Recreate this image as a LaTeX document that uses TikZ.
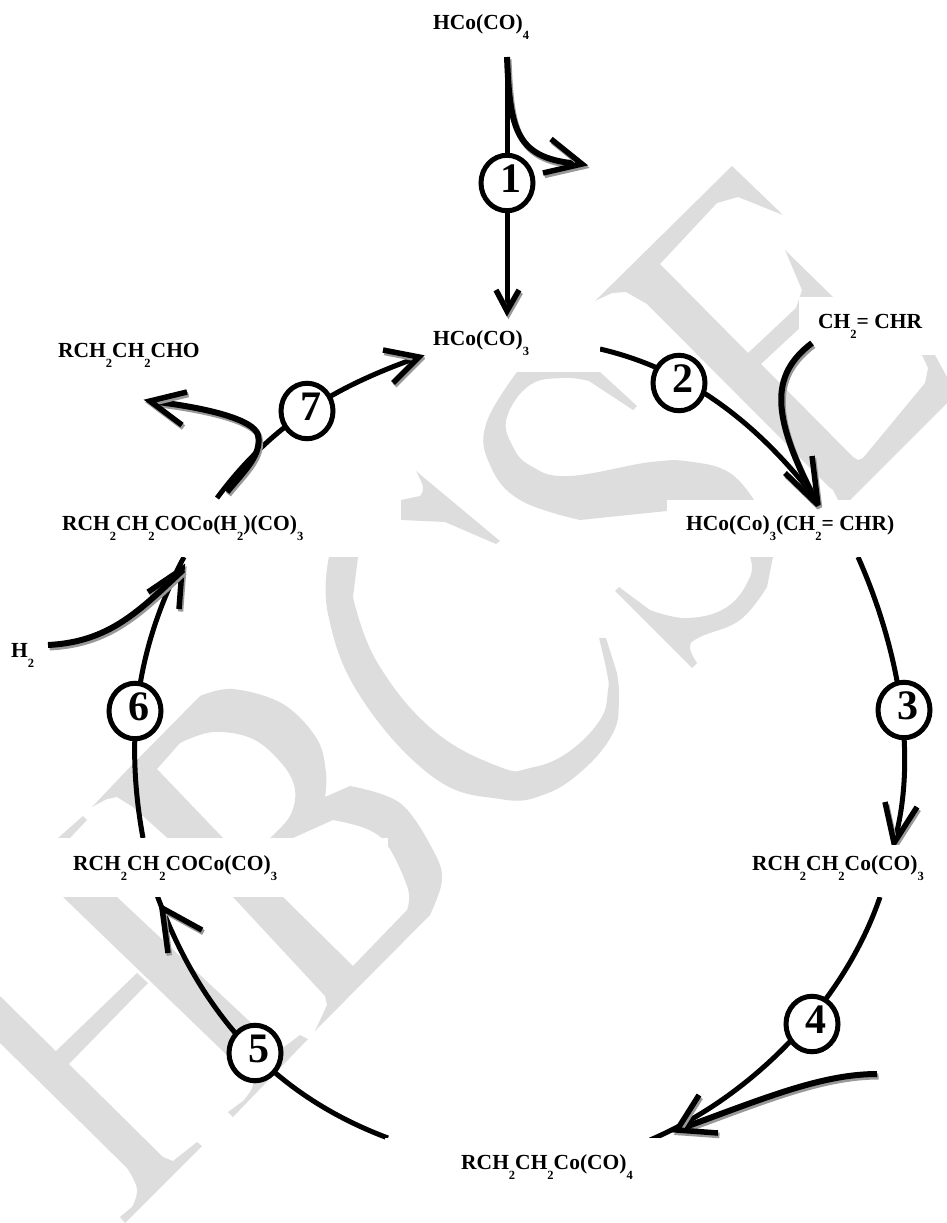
\documentclass[tikz,border=0pt]{standalone}
\usepackage{fontspec}
\setmainfont{Liberation Serif}
\usetikzlibrary{shapes.geometric}
\definecolor{wmgrey}{HTML}{DDDDDD}
\definecolor{shgrey}{HTML}{999999}
\newcommand\sbs[1]{\raisebox{-10pt}{\fontsize{12.5}{12.5}\selectfont\bfseries #1}}
\newcommand\stepnum[1]{\kern8pt\raisebox{-9pt}[0pt][0pt]{#1}}
\tikzset{
  wm/.style={fill=wmgrey,draw=none,even odd rule},
  mask/.style={fill=white,draw=none},
  ring/.style={draw=black,line width=5pt,line join=miter},
  side/.style={draw=black,line width=6pt,line cap=butt,
    preaction={draw=shgrey,line width=6pt,transform canvas={shift={(1.5pt,-2.5pt)}}}},
  barb/.style={draw=black,line width=5.5pt,line join=miter,miter limit=3,
    preaction={draw=shgrey,line width=5.5pt,line join=miter,miter limit=3,transform canvas={shift={(1.5pt,-2.5pt)}}}},
  chem/.style={anchor=base west,inner sep=0pt,font=\fontsize{21.5}{21.5}\selectfont\bfseries,text=black},
  stepc/.style={ellipse,draw=black,fill=white,line width=5pt,minimum width=52pt,minimum height=55.5pt,inner sep=0pt,
    font=\fontsize{42}{42}\selectfont\bfseries}
}
\begin{document}
\begin{tikzpicture}[x=1pt,y=-1pt]
\useasboundingbox (0,0) rectangle (947,1223);
% ---- watermark: H
\fill[wm] (0,996) -- (163,1157) -- (173,1161) -- (197,1142) -- (202,1146) -- (125,1223) -- (120,1217)
  -- plot[smooth,tension=.7] coordinates {(132,1207) (137,1189) (127,1168)} -- (0,1043) -- cycle;
\fill[wm] (58,838) -- (83,816) -- (87,820) -- (70,838) -- (117,897) -- (280,1050) -- (300,1035) -- (308,1039) -- (233,1117) -- (228,1112)
  -- plot[smooth,tension=.7] coordinates {(243,1101) (252,1088) (250,1078) (233,1061)} -- (63,897) -- cycle;
\fill[wm] (55,1052) -- (137,973) -- (148,983) -- (68,1065) -- cycle;
% ---- watermark: B
\fill[wm] (92,807) -- (130,767) -- plot[smooth,tension=.6] coordinates {(200,696) (233,689) (283,704) (317,739) (326,773) (325,797)}
  -- plot[smooth,tension=.6] coordinates {(350,786) (400,803) (433,850) (442,880) (430,915)} -- (315,1031)
  -- plot[smooth,tension=.7] coordinates {(327,1005) (325,996)} -- (233,897) -- (133,807)
  -- plot[smooth,tension=.7] coordinates {(117,797) (107,799)} -- cycle
  (157,769) -- plot[smooth,tension=.6] coordinates {(180,743) (213,732) (253,739) (283,765) (295,790) (290,816) (270,838)} -- (223,838) -- cycle
  (283,897) -- (293,838) -- plot[smooth,tension=.6] coordinates {(333,820) (367,829) (388,846) (408,889) (407,910)} -- (353,966) -- cycle;
% ---- watermark: C
\fill[wm] (416,471) -- (500,541) -- (496,544)
  -- plot[smooth,tension=.7] coordinates {(445,522) (401,520)} -- (358,557)
  -- plot[smooth,tension=.7] coordinates {(353,597) (377,662) (433,730) (500,767) (530,768) (567,753) (600,720) (608,690) (607,673) (599,638)}
  -- (606,638)
  -- plot[smooth,tension=.7] coordinates {(617,673) (619,700) (613,733) (583,770) (543,795) (500,799) (433,777) (360,696) (328,614) (329,557)}
  -- (340,510) -- (401,500) -- plot[smooth,tension=.7] coordinates {(420,496) (423,487) (416,471)} -- cycle;
% ---- watermark: S
\fill[wm] (600,372) -- (637,406) -- (633,410)
  -- plot[smooth,tension=.7] coordinates {(589,381) (564,378) (530,385) (507,417) (512,445) (531,466) (569,476) (651,462) (693,462) (730,473) (754,500)}
  -- (773,557)
  -- plot[smooth,tension=.7] coordinates {(767,587) (740,620) (700,637) (690,647) (697,663)} -- (692,668) -- (615,591) -- (619,587)
  -- plot[smooth,tension=.7] coordinates {(650,610) (687,618) (727,607) (750,577) (750,557)}
  -- (667,511) -- plot[smooth,tension=.7] coordinates {(580,520) (520,500) (490,465) (486,424) (517,372)} -- cycle;
% ---- watermark: E
\fill[wm] (595,301) -- (732,166) -- (783,215)
  -- plot[smooth,tension=.7] coordinates {(738,197) (717,203)} -- (660,264) -- (748,353) -- (796,308)
  -- plot[smooth,tension=.7] coordinates {(802,290) (785,250)} -- (833,297) -- (761,364) -- (853,457)
  -- plot[smooth,tension=.7] coordinates {(858,460) (863,458)} -- (925,383)
  -- plot[smooth,tension=.7] coordinates {(928,368) (922,355)} -- (935,355) -- (947,377) -- (947,403) -- (850,500) -- (838,500)
  -- plot[smooth,tension=.7] coordinates {(833,490) (829,487)} -- (647,304)
  -- plot[smooth,tension=.7] coordinates {(626,292) (612,293)} -- cycle;
% ---- named points
\coordinate (topS) at (507,57);
\coordinate (t1) at (507,311);
\coordinate (s2) at (600,349);
\coordinate (t2) at (819,503);
\coordinate (s3) at (858,557);
\coordinate (t3) at (894,843);
\coordinate (s4) at (880,897);
\coordinate (t4) at (650,1140);
\coordinate (s5) at (388,1138);
\coordinate (t5) at (157,895);
\coordinate (s6) at (143,838);
\coordinate (t6) at (184,557);
\coordinate (s7) at (217,498);
\coordinate (t7) at (419,357);
\coordinate (sOut) at (582,164);
\coordinate (sAlk) at (812,343);
\coordinate (sCO) at (877,1074);
\coordinate (tCO) at (677,1130);
\coordinate (sH) at (48,645);
\coordinate (tH) at (183,570);
\coordinate (sAld) at (227,492);
\coordinate (tAld) at (150,401);
% ---- ring connectors (cut by the label boxes)
\draw[ring] (s2) .. controls (690,370) and (760,425) .. (t2);
\draw[ring] (s3) .. controls (895,640) and (920,750) .. (t3);
\draw[ring] (s4) .. controls (845,1000) and (755,1095) .. (t4);
\draw[ring] (s5) .. controls (300,1105) and (210,1040) .. (t5);
\draw[ring] (s6) .. controls (125,740) and (135,650) .. (t6);
\draw[ring] (s7) .. controls (275,420) and (340,385) .. (t7);
% ---- arrowheads of the ring connectors
\draw[barb] (885,802) -- (t3) -- (917,807);
\draw[barb] (202,930) -- (162,908) -- (168,953);
\draw[barb] (148,592) -- (182,569) -- (179,609);
\draw[barb] (383,350) -- (t7) -- (393,383);
% ---- label boxes
\fill[mask] (425,304) rectangle (600,372);
\fill[mask] (799,297) rectangle (947,355);
\fill[mask] (667,500) rectangle (947,557);
\fill[mask] (50,500) rectangle (401,557);
\fill[mask] (58,838) rectangle (388,897);
\fill[mask] (740,845) rectangle (935,897);
\fill[mask] (385,1138) rectangle (660,1190);
% ---- connectors over the boxes
\draw[ring] (topS) -- (t1);
\draw[barb] (496,290) -- (t1) -- (519,290);
\draw[side] (topS) .. controls (510,130) and (515,160) .. (sOut);
\draw[barb] (551,139) -- (sOut) -- (543,173);
\draw[side] (sAlk) .. controls (770,375) and (770,415) .. (818,505);
\draw[barb] (785,473) -- (818,505) -- (812,456);
\draw[side] (sCO) .. controls (820,1074) and (760,1100) .. (tCO);
\draw[barb] (699,1095) -- (tCO) -- (718,1133);
\draw[side] (sH) .. controls (110,642) and (140,610) .. (tH);
\draw[side] (sAld) .. controls (245,470) and (262,455) .. (258,435) .. controls (254,420) and (210,408) .. (tAld);
\draw[barb] (187,392) -- (tAld) -- (182,425);
% ---- labels
\node[chem] (hco4) at (433,30) {HCo(CO)\sbs{4}};
\node[chem] (hco3) at (433,345) {HCo(CO)\sbs{3}};
\node[chem] (alk) at (818,328) {CH\sbs{2}= CHR};
\node[chem] (ald) at (58,357) {RCH\sbs{2}CH\sbs{2}CHO};
\node[chem] (cplx) at (686,530) {HCo(Co)\sbs{3}(CH\sbs{2}= CHR)};
\node[chem] (acylh) at (62,530) {RCH\sbs{2}CH\sbs{2}COCo(H\sbs{2})(CO)\sbs{3}};
\node[chem] (hyd) at (11,657) {H\sbs{2}};
\node[chem] (acyl) at (73,870) {RCH\sbs{2}CH\sbs{2}COCo(CO)\sbs{3}};
\node[chem] (alkyl3) at (752,870) {RCH\sbs{2}CH\sbs{2}Co(CO)\sbs{3}};
\node[chem] (alkyl4) at (461,1169) {RCH\sbs{2}CH\sbs{2}Co(CO)\sbs{4}};
% ---- step circles
\node[stepc] (c1) at (507,183) {\stepnum{1}};
\node[stepc] (c2) at (679,383) {\stepnum{2}};
\node[stepc] (c3) at (904,710) {\stepnum{3}};
\node[stepc] (c4) at (812,1024) {\stepnum{4}};
\node[stepc] (c5) at (255,1053) {\stepnum{5}};
\node[stepc] (c6) at (135,711) {\stepnum{6}};
\node[stepc] (c7) at (307,411) {\stepnum{7}};
\end{tikzpicture}
\end{document}
